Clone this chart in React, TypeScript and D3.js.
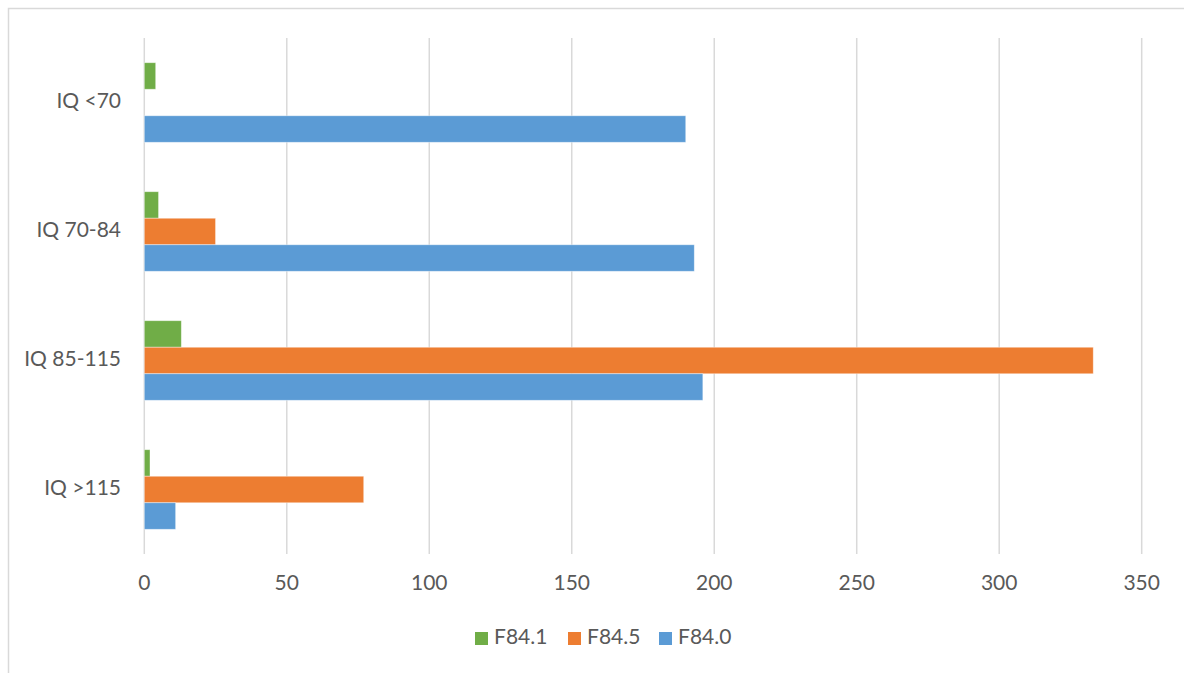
import * as d3 from "d3";

const categories = ["IQ <70", "IQ 70-84", "IQ 85-115", "IQ >115"];
const seriesNames = ["F84.1", "F84.5", "F84.0"];
const seriesColors = ["#70AD47", "#ED7D31", "#5B9BD5"];
// values per category, in category order
const f841 = [4, 5, 13, 2];
const f845 = [0, 25, 333, 77];
const f840 = [190, 193, 196, 11];
const xTicks = [0, 50, 100, 150, 200, 250, 300, 350];

const seriesValues = [f841, f845, f840];

const W = 1184;
const H = 673;
const FONT = "Lato, 'Open Sans', sans-serif";
const FS = 21;
const TEXT = "#595959";
const GRID = "#D9D9D9";

export default function App() {
  const x = d3.scaleLinear().domain([0, 350]).range([144.3, 1141.7]);
  const y = d3.scaleBand<string>().domain(categories).range([38, 554]);
  const bw = y.bandwidth();
  const groupH = bw * 0.617;
  const inner = d3
    .scaleBand<string>()
    .domain(seriesNames)
    .range([(bw - groupH) / 2, (bw + groupH) / 2]);

  const legendItems = [
    { name: seriesNames[0], x: 475 },
    { name: seriesNames[1], x: 568 },
    { name: seriesNames[2], x: 659 },
  ];

  return (
    <div style={{ position: "fixed", left: 0, top: 0 }}>
      <svg width={W} height={H} style={{ display: "block", background: "#fff" }}>
        <rect x={8.5} y={8.5} width={W + 10} height={H + 10} fill="#fff" stroke={GRID} strokeWidth={1.5} />

        {xTicks.map((t) => (
          <g key={t}>
            <line x1={x(t)} x2={x(t)} y1={38} y2={554} stroke={GRID} strokeWidth={1.5} />
            <text
              x={x(t)}
              y={585}
              textAnchor="middle"
              dominantBaseline="middle"
              fontFamily={FONT}
              fontSize={FS}
              fill={TEXT}
            >
              {t}
            </text>
          </g>
        ))}

        {categories.map((c, ci) => (
          <g key={c} transform={`translate(0,${y(c)})`}>
            {seriesNames.map((s, si) => {
              const v = seriesValues[si][ci];
              if (!v) return null;
              return (
                <rect
                  key={s}
                  x={x(0)}
                  y={inner(s)}
                  width={x(v) - x(0)}
                  height={inner.bandwidth()}
                  fill={seriesColors[si]}
                  stroke="#fff"
                  strokeOpacity={0.5}
                  strokeWidth={0.8}
                />
              );
            })}
            <text
              x={121}
              y={bw / 2}
              textAnchor="end"
              dominantBaseline="middle"
              fontFamily={FONT}
              fontSize={FS}
              fill={TEXT}
            >
              {c}
            </text>
          </g>
        ))}

        {legendItems.map((l, i) => (
          <g key={l.name} transform={`translate(${l.x},632)`}>
            <rect width={13} height={13} fill={seriesColors[i]} />
            <text
              x={19}
              y={7}
              dominantBaseline="middle"
              fontFamily={FONT}
              fontSize={FS}
              fill={TEXT}
            >
              {l.name}
            </text>
          </g>
        ))}
      </svg>
    </div>
  );
}
